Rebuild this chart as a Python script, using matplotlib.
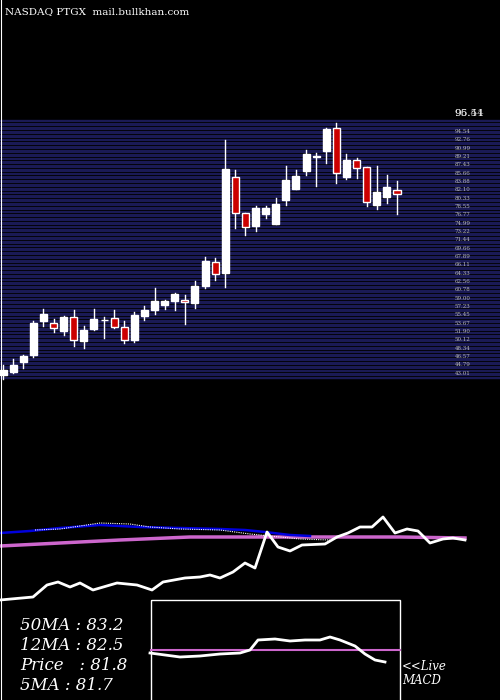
import matplotlib
matplotlib.use("Agg")
import matplotlib.pyplot as plt
import numpy as np

opens  = [42.6,43.3,45.5,46.9,54.2,53.8,52.1,54.9,49.9,52.4,54.3,54.7,52.8,50.1,55.2,56.5,57.5,58.4,58.7,58.0,
          61.6,66.8,64.3,84.9,77.1,74.4,76.9,74.8,79.9,82.3,86.1,89.1,90.4,95.2,84.9,88.4,87.0,78.8,80.6,82.0]
closes = [43.7,44.8,46.7,53.8,55.6,52.6,54.9,50.2,52.2,54.5,54.4,52.9,50.2,55.4,56.6,58.4,58.4,59.9,58.1,61.6,
          66.9,64.1,86.6,77.1,74.2,78.3,78.3,79.0,84.2,85.0,89.7,89.2,95.0,85.6,88.4,86.8,79.5,81.6,82.6,81.3]
highs  = [44.8,46.0,46.9,54.2,56.8,54.5,55.2,56.5,53.1,56.8,55.1,56.5,54.1,56.0,57.3,61.1,58.7,60.2,59.7,62.7,
          67.8,67.5,92.8,86.4,77.1,78.6,78.6,80.3,87.1,86.4,90.6,90.0,95.3,96.4,89.7,88.8,87.0,87.1,85.2,83.9]
lows   = [41.9,43.0,44.2,46.5,53.1,51.9,51.1,48.8,48.4,52.2,50.6,52.6,49.5,49.7,54.3,55.6,56.7,56.5,53.5,57.0,
          61.2,62.9,61.4,74.0,72.4,73.4,76.1,74.8,78.8,82.3,85.2,82.9,87.9,83.6,84.4,84.7,78.6,78.0,79.3,76.9]

# lower indicator panel (pixel-space readings)
vol_x = [0,33,47,58,70,80,93,117,137,152,163,185,200,210,220,233,245,255,267,278,290,302,325,337,348,360,372,383,395,407,418,430,443,453,465]
vol_y = [600,597,585,582,587,583,590,583,585,590,582,578,577,575,578,572,563,568,532,547,551,545,544,537,533,527,527,517,533,529,531,543,539,538,540]
blue_x = [0,30,60,100,140,180,220,245,265,290,310]
blue_y = [533,531,528,525,527,528,529,530,532,535,536]
dot_x = [35,60,80,100,130,150,180,220,250,270,300,330]
dot_y = [530,529,526,523,524,527,529,530,534,536,539,540]
pink_x = [0,60,120,190,300,400,465]
pink_y = [546,543,540,537,537,537,538]
macd_x = [150,165,180,200,220,240,250,258,275,290,305,320,330,340,355,365,375,385]
macd_y = [653,655,657,656,654,653,650,640,639,641,640,640,637,640,646,654,660,662]
macd_sig = 650

labels = ["50MA : 83.2", "12MA : 82.5", "Price   : 81.8", "5MA : 81.7"]
top_labels = ["96.54", "95.41"]

fig = plt.figure(figsize=(5, 7), dpi=100, facecolor="black")
# price axes mapped to full figure
ax = fig.add_axes([0, 0, 1, 1], facecolor="black")
slope = 0.213
ytop = 96.54 + 122 * slope
ybot = 96.54 - 578 * slope
ax.set_ylim(ybot, ytop)
ax.set_xlim(-0.3, 49.2)
ax.axis("off")
band_top = 96.54 - (122 - 122) * slope + 0.5
band_bot = 96.54 - (378 - 122) * slope
ax.axhspan(band_bot, band_top, color="#1a1a55", zorder=0)
for lv in np.linspace(band_bot + 0.4, band_top - 0.6, 68):
    ax.axhline(lv, color="black", lw=0.6, zorder=1)
for i, (o, c, h, l) in enumerate(zip(opens, closes, highs, lows)):
    x = i * 1.0
    ax.plot([x, x], [l, h], color="white", lw=1, zorder=2)
    red = c < o
    lo, hi = min(o, c), max(o, c)
    ax.add_patch(plt.Rectangle((x - 0.35, lo), 0.7, max(hi - lo, 0.15),
                               facecolor="#cc0000" if red else "white",
                               edgecolor="white", lw=1, zorder=3))
# right-side tiny labels
for lv in np.linspace(band_bot + 1, band_top - 2.5, 30):
    ax.text(44.7, lv, "%.2f" % lv, color="#bbbbbb", fontsize=4, va="center", family="DejaVu Serif")
for t in top_labels:
    ax.text(44.7, 96.54 + 1.9, t, color="white", fontsize=7.5, va="center", family="DejaVu Serif", alpha=0.8)

# pixel overlay
ov = fig.add_axes([0, 0, 1, 1], facecolor="none")
ov.set_xlim(0, 500)
ov.set_ylim(700, 0)
ov.axis("off")
ov.plot(pink_x, pink_y, color="#cc66cc", lw=2.5)
ov.plot(blue_x, blue_y, color="#0000dd", lw=1.8)
ov.plot(dot_x, dot_y, color="white", lw=0.8, ls=(0, (1, 1)))
ov.plot(vol_x, vol_y, color="white", lw=2)
ov.add_patch(plt.Rectangle((151, 600), 249, 110, fill=False, edgecolor="white", lw=1))
ov.plot([151, 400], [macd_sig, macd_sig], color="#cc66cc", lw=1.5)
ov.plot(macd_x, macd_y, color="white", lw=2)
for k, t in enumerate(labels):
    ov.text(20, 626 + k * 20, t, color="white", fontsize=12, style="italic", family="DejaVu Serif", va="center")
ov.text(402, 666, "<<Live", color="white", fontsize=8.5, style="italic", family="DejaVu Serif", va="center")
ov.text(402, 681, "MACD", color="white", fontsize=8.5, style="italic", family="DejaVu Serif", va="center")
ov.text(5, 12, "NASDAQ PTGX  mail.bullkhan.com", color="white", fontsize=7.5, family="DejaVu Serif", va="center")
ov.plot([0.5, 0.5], [0, 700], color="white", lw=0.8)

fig.savefig("out.png", dpi=100, facecolor="black")
